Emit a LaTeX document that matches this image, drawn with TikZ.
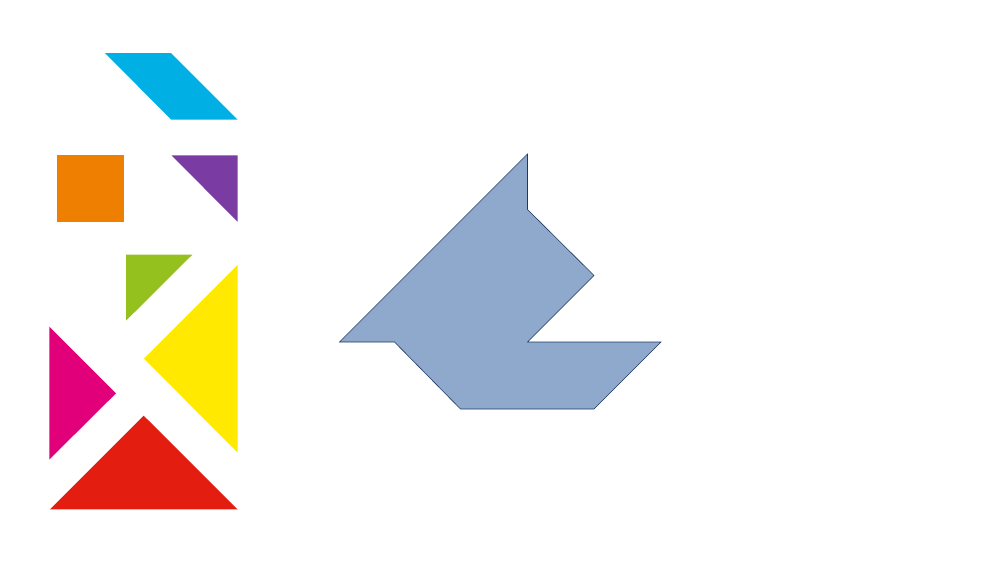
\documentclass[tikz,border=0pt]{standalone}
\definecolor{tcyan}{HTML}{00B0E5}
\definecolor{torange}{HTML}{EE7F00}
\definecolor{tpurple}{HTML}{7A3BA3}
\definecolor{tgreen}{HTML}{95C11F}
\definecolor{tyellow}{HTML}{FFE900}
\definecolor{tmagenta}{HTML}{E2007A}
\definecolor{tred}{HTML}{E31E10}
\definecolor{sfill}{HTML}{8EA9CB}
\definecolor{sline}{HTML}{1F3864}
\begin{document}
\begin{tikzpicture}[x=1pt,y=-1pt,
  piece/.style={fill=#1,draw=none},
  silhouette/.style={fill=sfill,draw=sline,line width=0.6pt,line join=miter}]
\useasboundingbox (0,0) rectangle (1000,563);
\fill[white] (0,0) rectangle (1000,563);
% tangram pieces
\path[piece=tcyan] (105,53) -- (171,53) -- (237.5,119.5) -- (171,119.5) -- cycle;
\path[piece=torange] (57.3,155.3) rectangle (124,221.7);
\path[piece=tpurple] (171.5,155.3) -- (237.5,155.3) -- (237.5,221.7) -- cycle;
\path[piece=tgreen] (126,254.7) -- (192.3,254.7) -- (126,320.7) -- cycle;
\path[piece=tyellow] (237.5,265) -- (144,358.7) -- (237.5,452.3) -- cycle;
\path[piece=tmagenta] (49.3,326.7) -- (116,393.3) -- (49.3,459.5) -- cycle;
\path[piece=tred] (50,509.3) -- (143.7,415.7) -- (237.5,509.3) -- cycle;
% silhouette
\path[silhouette] (527.5,154) -- (527.5,209.5) -- (594,275.5) -- (527.5,342)
  -- (661,342) -- (594,409) -- (460.5,409) -- (394.5,342) -- (339.5,342) -- cycle;
\end{tikzpicture}
\end{document}
